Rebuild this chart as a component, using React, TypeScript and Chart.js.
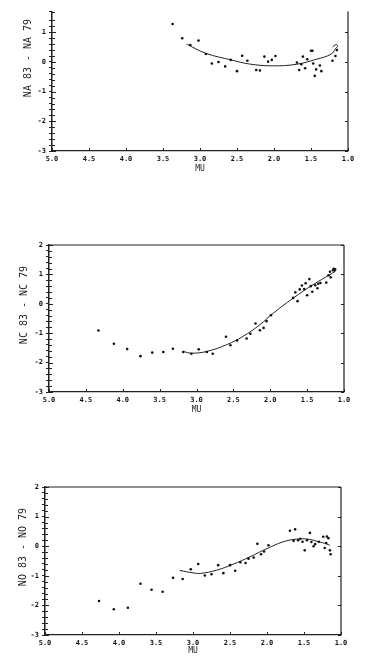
import React, { useEffect, useRef } from 'react';
import { Chart, registerables } from 'chart.js';

Chart.register(...registerables);

// ---------- data ----------
const muTicks = [5.0, 4.5, 4.0, 3.5, 3.0, 2.5, 2.0, 1.5, 1.0];

// Panel 1 : NA 83 - NA 79
const naMu = [3.37, 3.24, 3.13, 3.02, 2.92, 2.84, 2.75, 2.66, 2.585, 2.5, 2.43, 2.36, 2.24, 2.19, 2.13, 2.08, 2.03, 1.98, 1.69, 1.66, 1.63, 1.61, 1.58, 1.55, 1.5, 1.48, 1.47, 1.45, 1.43, 1.38, 1.36, 1.21, 1.17, 1.15];
const naDiff = [1.28, 0.8, 0.57, 0.72, 0.27, -0.05, 0.0, -0.15, 0.07, -0.31, 0.21, 0.04, -0.27, -0.29, 0.18, 0.01, 0.07, 0.2, -0.02, -0.27, -0.08, 0.18, -0.21, 0.09, 0.38, 0.38, -0.05, -0.47, -0.25, -0.12, -0.31, 0.04, 0.2, 0.4];
const naCurveMu = [3.18, 2.92, 2.58, 2.33, 2.02, 1.7, 1.43, 1.23, 1.17, 1.14, 1.17, 1.21];
const naCurve = [0.6, 0.29, 0.07, -0.07, -0.13, -0.08, 0.09, 0.26, 0.44, 0.55, 0.58, 0.5];

// Panel 2 : NC 83 - NC 79
const ncMu = [4.33, 4.12, 3.94, 3.76, 3.6, 3.45, 3.32, 3.18, 3.07, 2.97, 2.86, 2.78, 2.6, 2.54, 2.45, 2.32, 2.27, 2.2, 2.14, 2.09, 2.05, 1.99, 1.69, 1.66, 1.63, 1.6, 1.57, 1.54, 1.52, 1.5, 1.47, 1.45, 1.43, 1.39, 1.36, 1.35, 1.32, 1.24, 1.21, 1.19, 1.18, 1.15, 1.14, 1.12, 1.13];
const ncDiff = [-0.91, -1.36, -1.54, -1.78, -1.66, -1.64, -1.53, -1.64, -1.7, -1.55, -1.64, -1.7, -1.12, -1.41, -1.25, -1.18, -1.02, -0.67, -0.9, -0.82, -0.59, -0.39, 0.2, 0.39, 0.09, 0.49, 0.62, 0.5, 0.7, 0.29, 0.84, 0.6, 0.41, 0.63, 0.53, 0.68, 0.71, 0.72, 0.97, 1.09, 0.9, 1.14, 1.19, 1.17, 1.13];
const ncCurveMu = [3.18, 3.07, 2.86, 2.59, 2.37, 2.14, 1.96, 1.69, 1.42, 1.19, 1.12];
const ncCurve = [-1.62, -1.68, -1.62, -1.39, -1.11, -0.71, -0.32, 0.19, 0.65, 0.99, 1.1];

// Panel 3 : NO 83 - NO 79
const noMu = [4.27, 4.07, 3.88, 3.71, 3.56, 3.41, 3.27, 3.14, 3.03, 2.93, 2.84, 2.75, 2.66, 2.59, 2.5, 2.43, 2.36, 2.29, 2.25, 2.18, 2.13, 2.08, 2.04, 1.98, 1.69, 1.64, 1.62, 1.58, 1.55, 1.52, 1.49, 1.46, 1.42, 1.4, 1.37, 1.35, 1.3, 1.24, 1.22, 1.2, 1.19, 1.17, 1.15, 1.14];
const noDiff = [-1.85, -2.13, -2.08, -1.27, -1.47, -1.54, -1.07, -1.11, -0.78, -0.6, -0.99, -0.95, -0.64, -0.91, -0.64, -0.83, -0.54, -0.57, -0.42, -0.38, 0.08, -0.27, -0.18, 0.03, 0.52, 0.18, 0.57, 0.2, 0.25, 0.15, -0.14, 0.2, 0.45, 0.14, 0.0, 0.07, 0.15, 0.32, -0.06, 0.11, 0.33, 0.27, -0.14, -0.27];
const noCurveMu = [3.18, 3.0, 2.9, 2.68, 2.46, 2.23, 2.0, 1.78, 1.6, 1.45, 1.3, 1.2, 1.15];
const noCurve = [-0.82, -0.9, -0.92, -0.81, -0.61, -0.36, -0.08, 0.15, 0.24, 0.24, 0.15, 0.08, 0.03];

const yTitles = ['NA 83 - NA 79', 'NC 83 - NC 79', 'NO 83 - NO 79'];
const xTitle = 'MU';

// ---------- layout (styles only) ----------
const panels = [
  { mu: naMu, d: naDiff, cmu: naCurveMu, c: naCurve, title: yTitles[0], top: 0, h: 175, padTop: 11.5, padRight: 22, yW: 52, xH: 24, yMax: 1.7, topBorder: false, tx: 28, ty: 58 },
  { mu: ncMu, d: ncDiff, cmu: ncCurveMu, c: ncCurve, title: yTitles[1], top: 225, h: 191, padTop: 20, padRight: 26, yW: 49, xH: 24, yMax: 2, topBorder: true, tx: 24, ty: 80 },
  { mu: noMu, d: noDiff, cmu: noCurveMu, c: noCurve, title: yTitles[2], top: 470, h: 187, padTop: 17, padRight: 29, yW: 45, xH: 22, yMax: 2, topBorder: true, tx: 23, ty: 77 },
];

const isInt = (v: number) => Math.abs(v - Math.round(v)) < 1e-6;

const framePlugin = {
  id: 'frame',
  afterDatasetsDraw(chart: any, _args: any, opts: any) {
    const { ctx, chartArea: a, scales } = chart;
    const x = scales.x;
    const y = scales.y;
    ctx.save();
    ctx.strokeStyle = '#222';
    ctx.lineWidth = 1.2;
    ctx.beginPath();
    ctx.moveTo(a.right, a.top);
    ctx.lineTo(a.right, a.bottom);
    if (opts.topBorder) {
      ctx.moveTo(a.left, a.top);
      ctx.lineTo(a.right, a.top);
    }
    ctx.stroke();
    ctx.lineWidth = 1;
    ctx.beginPath();
    y.ticks.forEach((t: any) => {
      const p = Math.round(y.getPixelForValue(t.value)) + 0.5;
      const major = isInt(t.value);
      ctx.moveTo(a.left, p);
      ctx.lineTo(a.left + (major ? 4 : 3), p);
      if (major) {
        ctx.moveTo(a.right, p);
        ctx.lineTo(a.right - 3, p);
      }
    });
    x.ticks.forEach((t: any) => {
      const p = Math.round(x.getPixelForValue(t.value)) + 0.5;
      ctx.moveTo(p, a.bottom);
      ctx.lineTo(p, a.bottom - 3);
    });
    ctx.stroke();
    // y-axis title
    ctx.fillStyle = '#222';
    ctx.font = '10px "DejaVu Sans Mono"';
    ctx.textAlign = 'center';
    ctx.textBaseline = 'middle';
    ctx.translate(opts.tx, opts.ty);
    ctx.rotate(-Math.PI / 2);
    ctx.fillText(opts.title, 0, 0);
    ctx.restore();
  },
};

function PanelChart({ p }: { p: any }) {
  const ref = useRef<HTMLCanvasElement>(null);
  useEffect(() => {
    const pts = p.mu.map((m: number, i: number) => ({ x: m, y: p.d[i] }));
    const curve = p.cmu.map((m: number, i: number) => ({ x: m, y: p.c[i] }));
    const chart = new Chart(ref.current as HTMLCanvasElement, {
      type: 'scatter',
      data: {
        datasets: [
          { data: pts, pointRadius: 1.3, pointBackgroundColor: '#111', pointBorderWidth: 0, showLine: false },
          { data: curve, showLine: true, pointRadius: 0, borderColor: '#222', borderWidth: 1, tension: 0.4, fill: false },
        ],
      } as any,
      options: {
        responsive: false,
        animation: false,
        events: [],
        layout: { padding: { top: p.padTop, right: p.padRight, left: 0, bottom: 0 } },
        plugins: {
          legend: { display: false },
          tooltip: { enabled: false },
          frame: { topBorder: p.topBorder, title: p.title, tx: p.tx, ty: p.ty },
        } as any,
        scales: {
          x: {
            type: 'linear',
            reverse: true,
            min: 1,
            max: 5,
            afterFit: (s: any) => { s.height = p.xH; },
            afterBuildTicks: (s: any) => { s.ticks = muTicks.map((v) => ({ value: v })); },
            ticks: {
              padding: 4,
              color: '#111',
              autoSkip: false,
              maxRotation: 0,
              font: { family: '"DejaVu Sans Mono"', size: 7, weight: 'bold' },
              callback: (v: any) => Number(v).toFixed(1),
            },
            grid: { display: true, drawOnChartArea: false, drawTicks: false },
            border: { display: true, color: '#222', width: 1.2 },
            title: {
              display: true,
              text: xTitle,
              color: '#222',
              font: { family: '"DejaVu Sans Mono"', size: 8 },
              padding: { top: 0, bottom: 1.6 },
            },
          },
          y: {
            type: 'linear',
            min: -3,
            max: p.yMax,
            afterFit: (s: any) => { s.width = p.yW; },
            ticks: {
              stepSize: 0.2,
              maxTicksLimit: 100,
              autoSkip: false,
              padding: 3,
              color: '#111',
              font: { family: '"DejaVu Sans Mono"', size: 7, weight: 'bold' },
              callback: (v: any) => (isInt(Number(v)) ? String(Math.round(Number(v)) || 0) : ''),
            },
            grid: { display: true, drawOnChartArea: false, drawTicks: true, tickLength: 3, color: '#222' },
            border: { display: true, color: '#222', width: 1.5 },
          },
        },
      } as any,
      plugins: [framePlugin],
    });
    return () => chart.destroy();
  }, []);
  return (
    <canvas
      ref={ref}
      width={370}
      height={p.h}
      style={{ position: 'absolute', left: 0, top: p.top, width: 370, height: p.h }}
    />
  );
}

export default function App() {
  return (
    <div style={{ position: 'absolute', left: 0, top: 0, width: 370, height: 666, background: '#fff' }}>
      {panels.map((p, i) => (
        <PanelChart key={i} p={p} />
      ))}
    </div>
  );
}
